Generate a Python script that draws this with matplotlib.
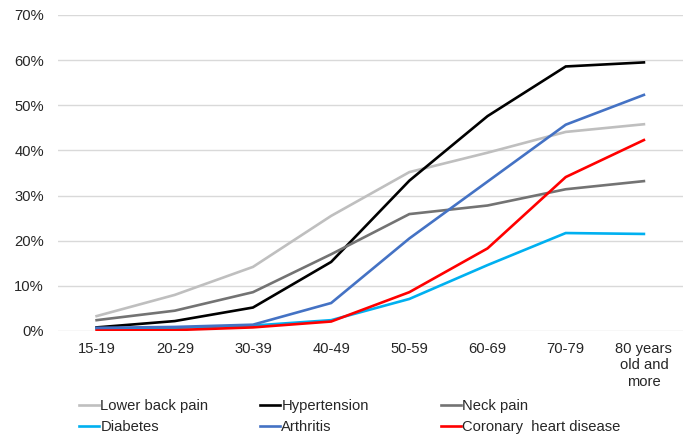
import matplotlib
matplotlib.use("Agg")
import matplotlib.pyplot as plt
from matplotlib.ticker import PercentFormatter

# age groups and prevalence (%) per condition
age_groups = ["15-19", "20-29", "30-39", "40-49", "50-59", "60-69", "70-79", "80 years\nold and\nmore"]
lower_back_pain = [3.3, 8.0, 14.2, 25.5, 35.2, 39.5, 44.1, 45.8]
hypertension = [0.8, 2.2, 5.2, 15.3, 33.3, 47.6, 58.6, 59.5]
neck_pain = [2.4, 4.5, 8.6, 17.0, 25.9, 27.8, 31.4, 33.2]
diabetes = [0.5, 0.7, 1.2, 2.4, 7.1, 14.6, 21.7, 21.5]
arthritis = [0.7, 0.9, 1.4, 6.2, 20.5, 33.1, 45.7, 52.3]
coronary = [0.1, 0.2, 0.8, 2.1, 8.6, 18.3, 34.1, 42.3]

plt.rcParams["font.family"] = ["Liberation Sans", "DejaVu Sans"]
text_col = "#262626"
fs = 10.6

fig = plt.figure(figsize=(6.83, 4.41), dpi=100)
ax = fig.add_axes([57.5 / 683, 1 - 331 / 441, 1 - 57.5 / 683, (331 - 15) / 441])

x = list(range(len(age_groups)))
series = [
    ("Lower back pain", lower_back_pain, "#BFBFBF"),
    ("Hypertension", hypertension, "#000000"),
    ("Neck pain", neck_pain, "#737373"),
    ("Diabetes", diabetes, "#00B0F0"),
    ("Arthritis", arthritis, "#4472C4"),
    ("Coronary  heart disease", coronary, "#FF0000"),
]
handles = {}
for name, vals, col in series:
    ln, = ax.plot(x, vals, color=col, lw=1.9, solid_joinstyle="miter", label=name)
    handles[name] = ln

ax.set_ylim(0, 70)
ax.set_xlim(-0.5, len(age_groups) - 0.5)
ax.set_yticks(range(0, 71, 10))
ax.yaxis.set_major_formatter(PercentFormatter(decimals=0))
ax.set_xticks(x)
ax.set_xticklabels(age_groups)
ax.grid(axis="y", color="#D9D9D9", lw=1)
ax.set_axisbelow(True)
for s in ax.spines.values():
    s.set_visible(False)
ax.tick_params(length=0, labelsize=fs, colors=text_col)
ax.tick_params(axis="y", pad=9.7)
ax.tick_params(axis="x", pad=8)
for lbl in ax.get_xticklabels():
    lbl.set_verticalalignment("top")
    lbl.set_linespacing(1.2)

# legend: three fixed-width columns, two rows
cols = [["Lower back pain", "Diabetes"], ["Hypertension", "Arthritis"], ["Neck pain", "Coronary  heart disease"]]
col_x = [79, 260, 441]
for names, px in zip(cols, col_x):
    leg = fig.legend([handles[n] for n in names], names, loc="upper left",
                     bbox_to_anchor=(px / 683, 1 - 399 / 441), frameon=False,
                     fontsize=fs, handlelength=1.35, handletextpad=0.1,
                     labelspacing=0.5, borderpad=0, borderaxespad=0)
    for t in leg.get_texts():
        t.set_color(text_col)

fig.savefig("out.png", dpi=100)
